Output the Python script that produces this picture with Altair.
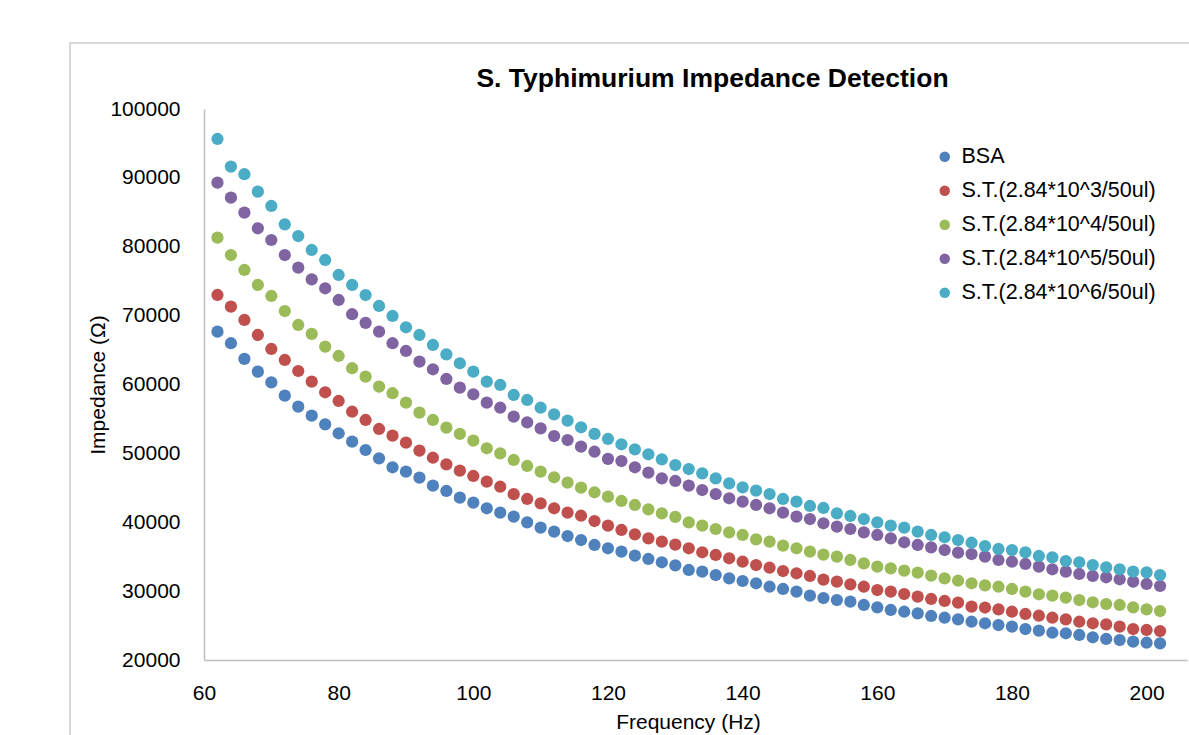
import altair as alt
import pandas as pd

freq = [62, 64, 66, 68, 70, 72, 74, 76, 78, 80,
        82, 84, 86, 88, 90, 92, 94, 96, 98, 100,
        102, 104, 106, 108, 110, 112, 114, 116, 118, 120,
        122, 124, 126, 128, 130, 132, 134, 136, 138, 140,
        142, 144, 146, 148, 150, 152, 154, 156, 158, 160,
        162, 164, 166, 168, 170, 172, 174, 176, 178, 180,
        182, 184, 186, 188, 190, 192, 194, 196, 198, 200,
        202]

bsa = [67670, 65990, 63710, 61860, 60320, 58380, 56780, 55470, 54220, 52920,
       51700, 50490, 49280, 47980, 47340, 46470, 45310, 44540, 43570, 42840,
       42030, 41390, 40820, 39990, 39210, 38630, 38000, 37420, 36700, 36220,
       35730, 35150, 34670, 34190, 33740, 33070, 32820, 32340, 31860, 31470,
       31140, 30640, 30310, 29920, 29340, 29000, 28710, 28470, 27990, 27650,
       27260, 27010, 26770, 26390, 26140, 25910, 25560, 25330, 25080, 24840,
       24500, 24260, 23960, 23880, 23630, 23300, 23050, 22900, 22660, 22510,
       22420]

st3 = [73000, 71300, 69370, 67190, 65160, 63560, 61960, 60410, 58870, 57610,
       56050, 54850, 53540, 52570, 51550, 50390, 49370, 48410, 47490, 46720,
       45890, 45160, 44080, 43380, 42750, 42030, 41390, 40950, 40180, 39500,
       38880, 38250, 37670, 37180, 36750, 36220, 35640, 35250, 34770, 34270,
       33790, 33400, 32920, 32590, 32200, 31670, 31370, 30990, 30640, 30160,
       29920, 29580, 29190, 28860, 28570, 28320, 27740, 27620, 27360, 27010,
       26680, 26430, 26140, 25910, 25560, 25330, 25180, 24840, 24500, 24360,
       24210]

st4 = [81320, 78800, 76630, 74450, 72850, 70670, 68640, 67340, 65490, 64140,
       62360, 61140, 59690, 58730, 57360, 55910, 54850, 53730, 52820, 51840,
       50740, 50010, 49040, 48170, 47340, 46530, 45750, 45020, 44350, 43710,
       43090, 42510, 41880, 41300, 40780, 39990, 39500, 39020, 38540, 38150,
       37520, 37180, 36600, 36220, 35730, 35300, 35000, 34520, 34040, 33550,
       33310, 32970, 32680, 32240, 31860, 31510, 31140, 30840, 30640, 30310,
       29920, 29540, 29340, 29050, 28710, 28380, 28130, 27990, 27650, 27360,
       27110]

st5 = [89300, 87130, 84950, 82680, 80980, 78800, 76960, 75270, 73970, 72270,
       70200, 68950, 67670, 65990, 64870, 63310, 62210, 60800, 59540, 58580,
       57360, 56630, 55330, 54510, 53640, 52520, 51940, 50970, 50240, 49190,
       48890, 47980, 47200, 46380, 45990, 45310, 44680, 44100, 43480, 42990,
       42510, 42030, 41390, 40810, 40470, 39850, 39360, 39020, 38540, 38150,
       37670, 37090, 36700, 36360, 35970, 35580, 35390, 35000, 34520, 34270,
       33940, 33550, 33170, 32820, 32490, 32200, 32010, 31720, 31370, 31040,
       30750]

st6 = [95650, 91640, 90530, 88000, 85920, 83260, 81560, 79530, 78080, 75900,
       74450, 72990, 71400, 69950, 68310, 67190, 65740, 64380, 63080, 61860,
       60410, 59930, 58480, 57750, 56630, 55670, 54750, 53790, 52820, 52090,
       51320, 50590, 49870, 49140, 48310, 47730, 47100, 46380, 45650, 45070,
       44580, 44100, 43380, 42990, 42360, 42070, 41300, 40910, 40470, 39990,
       39500, 39210, 38630, 38150, 37820, 37420, 37030, 36550, 36120, 35970,
       35640, 35100, 34910, 34370, 34190, 33790, 33460, 33170, 32820, 32730,
       32340]

series_names = ["BSA", "S.T.(2.84*10^3/50ul)", "S.T.(2.84*10^4/50ul)",
                "S.T.(2.84*10^5/50ul)", "S.T.(2.84*10^6/50ul)"]
colors = ["#4F81BD", "#C0504D", "#9BBB59", "#8064A2", "#4BACC6"]
x_ticks = [60, 80, 100, 120, 140, 160, 180, 200]
y_ticks = [20000, 30000, 40000, 50000, 60000, 70000, 80000, 90000, 100000]

rows = []
for name, vals in zip(series_names, [bsa, st3, st4, st5, st6]):
    for f, v in zip(freq, vals):
        rows.append({"Frequency": f, "Impedance": v, "Series": name})
df = pd.DataFrame(rows)

W, H = 983, 551
FONT = "Liberation Sans"

frame = alt.Chart(pd.DataFrame({"a": [0]})).mark_rect(
    fill="transparent", stroke="#d9d9d9", strokeWidth=2
).encode(
    x=alt.value(-134), y=alt.value(-66), x2=alt.value(W + 200), y2=alt.value(H + 200)
)

points = alt.Chart(df).mark_circle(size=150, opacity=1).encode(
    x=alt.X("Frequency:Q",
            scale=alt.Scale(domain=[60, 206], nice=False, zero=False),
            axis=alt.Axis(values=x_ticks, title="Frequency (Hz)", grid=False, ticks=False,
                          labelFlush=False,
                          labelPadding=22, labelFontSize=21, labelFont=FONT, labelColor="#000000",
                          titleFont=FONT, titleFontSize=21, titleFontWeight="normal", titleColor="#000000",
                          titleX=484, titleY=62, titleBaseline="middle", titleAlign="center",
                          domainColor="#bfbfbf", domainWidth=1.5)),
    y=alt.Y("Impedance:Q",
            scale=alt.Scale(domain=[20000, 100000], nice=False, zero=False),
            axis=alt.Axis(values=y_ticks, format="d", title="Impedance (Ω)", grid=False, ticks=False,
                          labelFlush=False,
                          labelPadding=24, labelFontSize=21, labelFont=FONT, labelColor="#000000",
                          titleFont=FONT, titleFontSize=21, titleFontWeight="normal", titleColor="#000000",
                          titleX=-106, titleY=H / 2, titleAngle=270, titleBaseline="middle",
                          titleAlign="center",
                          domainColor="#bfbfbf", domainWidth=1.5)),
    color=alt.Color("Series:N",
                    scale=alt.Scale(domain=series_names, range=colors),
                    sort=series_names,
                    legend=alt.Legend(title=None, orient="none", legendX=730, legendY=37,
                                      symbolType="circle", symbolSize=110, symbolStrokeWidth=0,
                                      labelFont=FONT, labelFontSize=21.5, labelColor="#000000",
                                      labelLimit=400, rowPadding=11, labelOffset=6, padding=0)),
)

chart = alt.layer(frame, points).properties(
    width=W, height=H,
    autosize=alt.AutoSizeParams(type="none"),
    padding={"left": 204, "top": 109, "right": 2, "bottom": 75},
    title=alt.Title("S. Typhimurium Impedance Detection", font=FONT, fontSize=26.5,
                    fontWeight="bold", color="#000000", dx=17, offset=-50, anchor="middle"),
).configure_view(stroke=None)

chart.save("out.html", embed_options={"renderer": "svg", "actions": False})
